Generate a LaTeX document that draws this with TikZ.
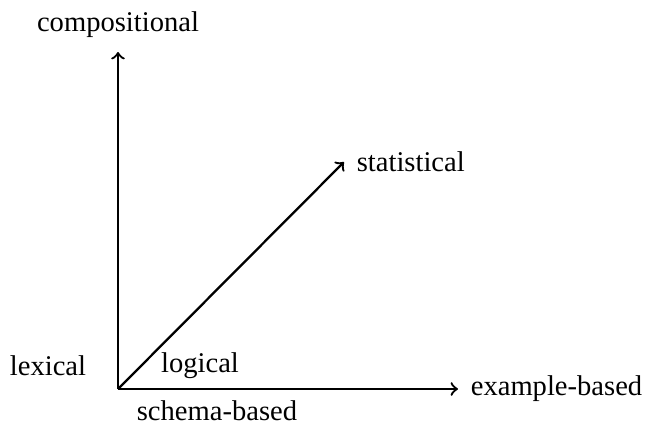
\documentclass[tikz,border=0pt]{standalone}
\usepackage{fontspec}
\setmainfont{Liberation Serif}
\usetikzlibrary{positioning}
\begin{document}
\begin{tikzpicture}
[
    x=0.35pt, y=-0.35pt,
    axis/.style={->, line width=0.8pt},
    label/.style={inner sep=3.3pt}
]
    \useasboundingbox (0,0) rectangle (645,425);
    \coordinate (origin) at (118,389);
    \coordinate (up) at (118,52);
    \coordinate (right) at (458,389);
    \coordinate (diag) at (344,162);

    \draw [axis] (origin) -- (up);
    \draw [axis] (origin) -- (right);
    \draw [axis] (origin) -- (diag);

    \node [label, anchor=base] (compositional) at (118,31) {compositional};
    \node [label, right=1pt of diag] (statistical) {statistical};
    \node [label, right=1pt of right] (example) {example-based};
    \node [label, anchor=base] (lexical) at (48,375) {lexical};
    \node [label, anchor=base] (logical) at (200,372) {logical};
    \node [label, anchor=base] (schema) at (217,420) {schema-based};
\end{tikzpicture}
\end{document}
